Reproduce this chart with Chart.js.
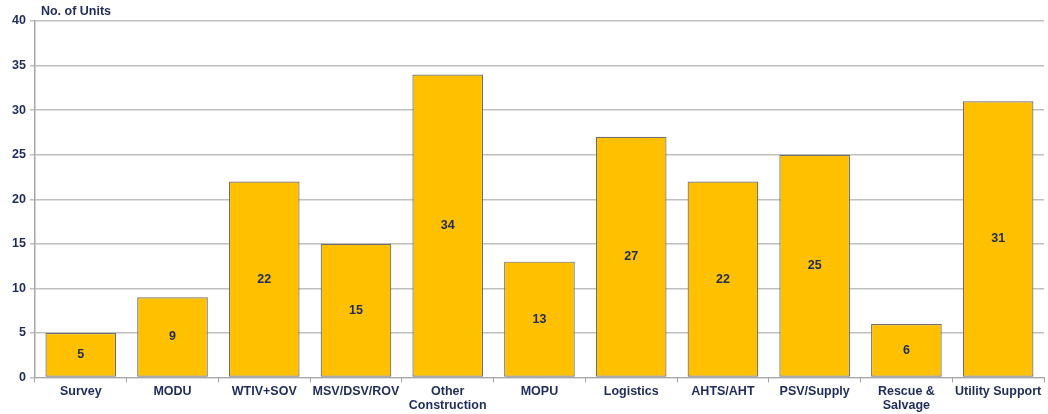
<!DOCTYPE html>
<html>
<head>
<meta charset="utf-8">
<script src="https://cdn.jsdelivr.net/npm/chart.js@4"></script>
<style>
  body { margin: 0; background: #fff; }
  #wrap { width: 1048px; height: 414px; }
</style>
</head>
<body>
<div id="wrap"><canvas id="myChart" width="1048" height="414"></canvas></div>
<script>
const categories = ['Survey', 'MODU', 'WTIV+SOV', 'MSV/DSV/ROV', ['Other', 'Construction'], 'MOPU',
    'Logistics', 'AHTS/AHT', 'PSV/Supply', ['Rescue &', 'Salvage'], 'Utility Support'];
const units = [5, 9, 22, 15, 34, 13, 27, 22, 25, 6, 31];
const yTicks = [0, 5, 10, 15, 20, 25, 30, 35, 40];

const navy = '#1f2b5c';

// number in the middle of each bar
const barLabels = {
    id: 'barLabels',
    afterDatasetsDraw(chart) {
        const ctx = chart.ctx;
        const meta = chart.getDatasetMeta(0);
        ctx.save();
        ctx.font = 'bold 12.5px "Liberation Sans", Arial, sans-serif';
        ctx.fillStyle = navy;
        ctx.textAlign = 'center';
        ctx.textBaseline = 'middle';
        meta.data.forEach(function (bar, i) {
            const mid = (bar.y + bar.base) / 2;
            ctx.fillText(units[i], bar.x, mid);
        });
        ctx.restore();
    }
};

// "No. of Units" above the y axis
const axisCaption = {
    id: 'axisCaption',
    afterDraw(chart) {
        const ctx = chart.ctx;
        ctx.save();
        ctx.font = 'bold 12.5px "Liberation Sans", Arial, sans-serif';
        ctx.fillStyle = navy;
        ctx.textAlign = 'left';
        ctx.textBaseline = 'middle';
        ctx.fillText('No. of Units', chart.chartArea.left + 6, 12);
        ctx.restore();
    }
};

const ctx = document.getElementById('myChart').getContext('2d');
const myChart = new Chart(ctx, {
    type: 'bar',
    data: {
        labels: categories,
        datasets: [{
            data: units,
            backgroundColor: '#ffc000',
            borderColor: '#6f6f6f',
            borderWidth: 1.2,
            borderSkipped: false,
            categoryPercentage: 0.77,
            barPercentage: 1.0
        }]
    },
    options: {
        responsive: false,
        animation: false,
        layout: { padding: { top: 21, right: 4, left: 8, bottom: 0 } },
        plugins: {
            legend: { display: false },
            tooltip: { enabled: false }
        },
        scales: {
            x: {
                grid: {
                    offset: true,
                    drawOnChartArea: false,
                    drawTicks: true,
                    tickLength: 5,
                    color: '#a6a6a6'
                },
                border: { color: '#a6a6a6', width: 1 },
                ticks: {
                    color: navy,
                    maxRotation: 0,
                    autoSkip: false,
                    padding: 2,
                    font: { family: '"Liberation Sans", Arial, sans-serif', size: 12.5, weight: 'bold', lineHeight: 1.1 }
                }
            },
            y: {
                min: 0,
                max: 40,
                afterBuildTicks(axis) {
                    axis.ticks = yTicks.map(v => ({ value: v }));
                },
                grid: {
                    color: '#bfbfbf',
                    lineWidth: 1.5,
                    tickLength: 5
                },
                border: { color: '#a6a6a6', width: 1.5 },
                ticks: {
                    color: navy,
                    padding: 4,
                    font: { family: '"Liberation Sans", Arial, sans-serif', size: 12.5, weight: 'bold' }
                }
            }
        }
    },
    plugins: [barLabels, axisCaption]
});
</script>
</body>
</html>
